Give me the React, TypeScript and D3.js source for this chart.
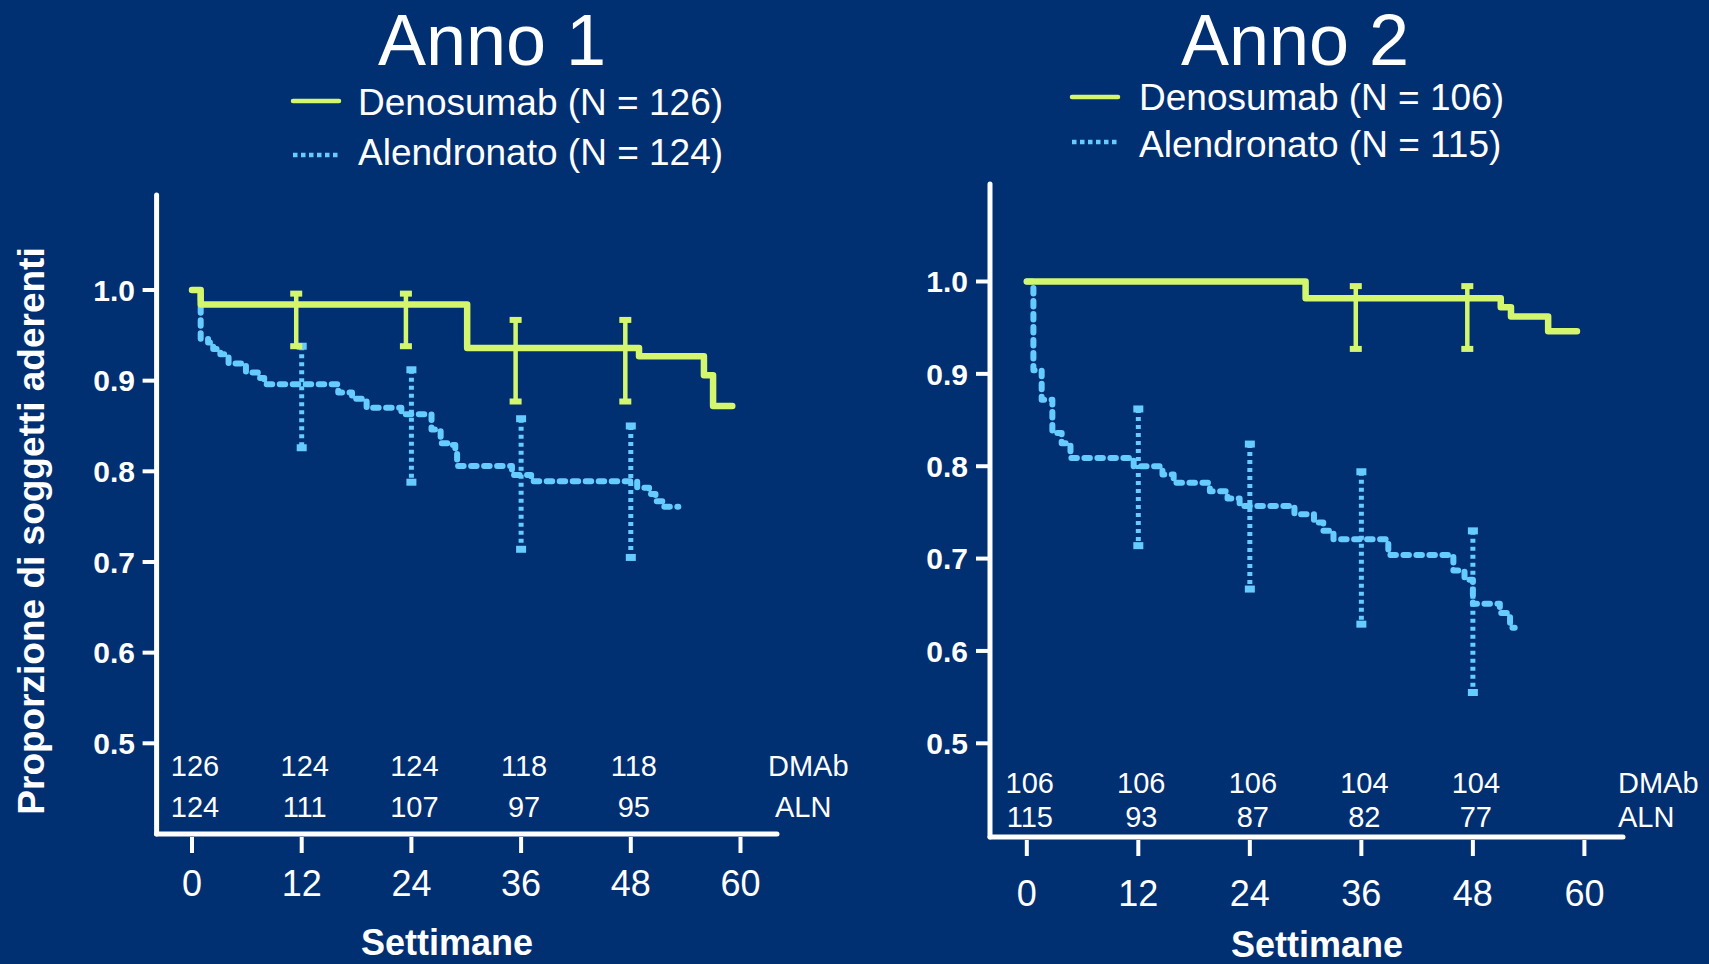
import React from "react";
import * as d3 from "d3";

const WIDTH = 1709;
const HEIGHT = 964;
const BG = "#002F72";
const GREEN = "#D4F66E";
const BLUE = "#66CCFF";
const WHITE = "#FFFFFF";
const FONT = "'Liberation Sans', Arial, Helvetica, sans-serif";

// Axis ticks
const weekTicks = [0, 12, 24, 36, 48, 60];
const proportionTicks = [0.5, 0.6, 0.7, 0.8, 0.9, 1.0];
const ciWeeks = [12, 24, 36, 48];
const riskWeeks = [0, 12, 24, 36, 48];

type Step = [number, number]; // [week, proportion adherent from that week on]
type Interval = [number, number]; // [lower, upper]

// ---- Anno 1 ----
const dmabYear1: Step[] = [
  [0, 1.0], [0.95, 0.984], [30.1, 0.936], [48.9, 0.927], [56.0, 0.906], [57.0, 0.872], [59.1, 0.872],
];
const alnYear1: Step[] = [
  [0, 1.0], [0.95, 0.946], [1.76, 0.942], [2.32, 0.935], [3.1, 0.929], [4.0, 0.919], [5.9, 0.909],
  [7.2, 0.903], [7.9, 0.896], [16.0, 0.887], [17.5, 0.88], [19.1, 0.87], [22.9, 0.863], [26.2, 0.846],
  [27.2, 0.831], [28.2, 0.829], [28.8, 0.822], [29.0, 0.806], [35.0, 0.796], [37.1, 0.789], [48.7, 0.782],
  [50.0, 0.775], [50.7, 0.767], [51.5, 0.761], [53.2, 0.761],
];
const dmabCiYear1: Interval[] = [[0.938, 0.996], [0.938, 0.996], [0.877, 0.967], [0.877, 0.967]];
const alnCiYear1: Interval[] = [[0.826, 0.938], [0.788, 0.912], [0.714, 0.858], [0.705, 0.85]];
const dmabRiskYear1 = [126, 124, 124, 118, 118];
const alnRiskYear1 = [124, 111, 107, 97, 95];

// ---- Anno 2 ----
const dmabYear2: Step[] = [
  [0, 1.0], [30.0, 0.982], [51.0, 0.972], [52.1, 0.962], [56.1, 0.946], [59.2, 0.946],
];
const alnYear2: Step[] = [
  [0, 1.0], [0.71, 0.904], [1.6, 0.872], [2.75, 0.836], [3.75, 0.825], [4.7, 0.809], [11.5, 0.8],
  [14.6, 0.791], [15.8, 0.782], [19.7, 0.773], [21.6, 0.765], [22.9, 0.757], [28.8, 0.748], [30.9, 0.739],
  [31.9, 0.73], [33.0, 0.721], [38.9, 0.704], [45.9, 0.687], [47.1, 0.677], [48.0, 0.651], [50.9, 0.641],
  [52.0, 0.625], [52.5, 0.625],
];
const dmabCiYear2: Interval[] = [[0.927, 0.995], [0.927, 0.995], [0.927, 0.995], [0.927, 0.995]];
const alnCiYear2: Interval[] = [[0.714, 0.862], [0.667, 0.824], [0.629, 0.794], [0.555, 0.73]];
const dmabRiskYear2 = [106, 106, 106, 104, 104];
const alnRiskYear2 = [115, 93, 87, 82, 77];

// Denosumab intervals at weeks 12/24 are not drawn in year 2
const dmabCiShownYear2 = [false, false, true, true];

const DMAB_CI_SHIFT = -0.6;

interface Layout {
  axisX: number;
  axisTop: number;
  baseY: number;
  axisRight: number;
  xRange: [number, number];
  yRange: [number, number];
  titleX: number;
  legendLineX: number;
  legendTextX: number;
  legendLineY: [number, number];
  legendBaseline: [number, number];
  riskBaseline: [number, number];
  riskLabelX: [number, number];
  tickLabelBaseline: number;
  xTitleX: number;
  xTitleBaseline: number;
  yLabelX: number;
}

interface PanelProps {
  title: string;
  dmabN: number;
  alnN: number;
  dmab: Step[];
  aln: Step[];
  dmabCi: Interval[];
  dmabCiShown: boolean[];
  alnCi: Interval[];
  dmabRisk: number[];
  alnRisk: number[];
  layout: Layout;
}

function Panel(p: PanelProps) {
  const L = p.layout;
  const x = d3.scaleLinear().domain([0, 60]).range(L.xRange);
  const y = d3.scaleLinear().domain([0.5, 1.0]).range(L.yRange);
  const line = d3
    .line<Step>()
    .x((d) => x(d[0]))
    .y((d) => y(d[1]))
    .curve(d3.curveStepAfter);

  return (
    <g>
      {/* title */}
      <text x={L.titleX} y={65} textAnchor="middle" fontSize={72} fill={WHITE} fontFamily={FONT}>
        {p.title}
      </text>
      {/* legend */}
      <line x1={L.legendLineX} x2={L.legendLineX + 46} y1={L.legendLineY[0]} y2={L.legendLineY[0]}
        stroke={GREEN} strokeWidth={4.5} strokeLinecap="round" />
      <text x={L.legendTextX} y={L.legendBaseline[0]} fontSize={37} fill={WHITE} fontFamily={FONT}>
        {`Denosumab (N = ${p.dmabN})`}
      </text>
      <line x1={L.legendLineX} x2={L.legendLineX + 46} y1={L.legendLineY[1]} y2={L.legendLineY[1]}
        stroke={BLUE} strokeWidth={4.5} strokeDasharray="4.5 3.5" />
      <text x={L.legendTextX} y={L.legendBaseline[1]} fontSize={37} fill={WHITE} fontFamily={FONT}>
        {`Alendronato (N = ${p.alnN})`}
      </text>

      {/* axes */}
      <line x1={L.axisX} x2={L.axisX} y1={L.axisTop} y2={L.baseY} stroke={WHITE} strokeWidth={5} strokeLinecap="round" />
      <line x1={L.axisX} x2={L.axisRight} y1={L.baseY} y2={L.baseY} stroke={WHITE} strokeWidth={5} strokeLinecap="round" />
      {proportionTicks.map((t) => (
        <g key={t}>
          <line x1={L.axisX - 14} x2={L.axisX} y1={y(t)} y2={y(t)} stroke={WHITE} strokeWidth={4} />
          <text x={L.yLabelX} y={y(t)} dy="0.36em" textAnchor="end" fontSize={30} fontWeight="bold"
            fill={WHITE} fontFamily={FONT}>
            {d3.format(".1f")(t)}
          </text>
        </g>
      ))}
      {weekTicks.map((t) => (
        <g key={t}>
          <line x1={x(t)} x2={x(t)} y1={L.baseY + 3} y2={L.baseY + 19} stroke={WHITE} strokeWidth={4} />
          <text x={x(t)} y={L.tickLabelBaseline} textAnchor="middle" fontSize={36} fill={WHITE} fontFamily={FONT}>
            {t}
          </text>
        </g>
      ))}
      <text x={L.xTitleX} y={L.xTitleBaseline} textAnchor="middle" fontSize={36} fontWeight="bold"
        fill={WHITE} fontFamily={FONT}>
        Settimane
      </text>

      {/* numbers at risk */}
      {riskWeeks.map((w, i) => (
        <g key={w}>
          <text x={x(w) + 3} y={L.riskBaseline[0]} textAnchor="middle" fontSize={29} fill={WHITE} fontFamily={FONT}>
            {p.dmabRisk[i]}
          </text>
          <text x={x(w) + 3} y={L.riskBaseline[1]} textAnchor="middle" fontSize={29} fill={WHITE} fontFamily={FONT}>
            {p.alnRisk[i]}
          </text>
        </g>
      ))}
      <text x={L.riskLabelX[0]} y={L.riskBaseline[0]} fontSize={29} fill={WHITE} fontFamily={FONT}>DMAb</text>
      <text x={L.riskLabelX[1]} y={L.riskBaseline[1]} fontSize={29} fill={WHITE} fontFamily={FONT}>ALN</text>

      {/* alendronate curve + intervals */}
      <path d={line(p.aln) ?? ""} fill="none" stroke={BLUE} strokeWidth={6} strokeDasharray="5.5 7.5"
        strokeLinecap="round" strokeLinejoin="round" />
      {ciWeeks.map((w, i) => {
        const [lo, hi] = p.alnCi[i];
        return (
          <g key={w}>
            <line x1={x(w)} x2={x(w)} y1={y(hi)} y2={y(lo)} stroke={BLUE} strokeWidth={5} strokeDasharray="4 4" />
            <rect x={x(w) - 5} y={y(hi) - 3.5} width={10} height={7} fill={BLUE} />
            <rect x={x(w) - 5} y={y(lo) - 3.5} width={10} height={7} fill={BLUE} />
          </g>
        );
      })}

      {/* denosumab curve + intervals */}
      <path d={line(p.dmab) ?? ""} fill="none" stroke={GREEN} strokeWidth={6.5}
        strokeLinecap="round" strokeLinejoin="round" />
      {ciWeeks.map((w, i) => {
        if (!p.dmabCiShown[i]) return null;
        const [lo, hi] = p.dmabCi[i];
        const cx = x(w + DMAB_CI_SHIFT);
        return (
          <g key={w}>
            <line x1={cx} x2={cx} y1={y(hi)} y2={y(lo)} stroke={GREEN} strokeWidth={4.5} />
            <rect x={cx - 6} y={y(hi) - 3} width={12} height={6} fill={GREEN} />
            <rect x={cx - 6} y={y(lo) - 3} width={12} height={6} fill={GREEN} />
          </g>
        );
      })}
    </g>
  );
}

const layout1: Layout = {
  axisX: 156.6,
  axisTop: 195,
  baseY: 834,
  axisRight: 777,
  xRange: [192, 740.5],
  yRange: [743.3, 290],
  titleX: 492,
  legendLineX: 293,
  legendTextX: 358,
  legendLineY: [101, 155],
  legendBaseline: [115, 165],
  riskBaseline: [776, 816.5],
  riskLabelX: [768, 775],
  tickLabelBaseline: 896,
  xTitleX: 447,
  xTitleBaseline: 955,
  yLabelX: 135,
};

const layout2: Layout = {
  axisX: 990,
  axisTop: 184,
  baseY: 837,
  axisRight: 1623,
  xRange: [1026.8, 1584.4],
  yRange: [743.3, 281.5],
  titleX: 1295,
  legendLineX: 1072,
  legendTextX: 1139,
  legendLineY: [97, 142],
  legendBaseline: [110, 157],
  riskBaseline: [793, 826.5],
  riskLabelX: [1618, 1618],
  tickLabelBaseline: 906,
  xTitleX: 1317,
  xTitleBaseline: 957,
  yLabelX: 968,
};

export default function App() {
  return (
    <div style={{ position: "fixed", left: 0, top: 0, width: WIDTH, height: HEIGHT, background: BG }}>
      <svg width={WIDTH} height={HEIGHT} viewBox={`0 0 ${WIDTH} ${HEIGHT}`} style={{ display: "block" }}>
        <rect width={WIDTH} height={HEIGHT} fill={BG} />
        <text transform="translate(44,531) rotate(-90)" textAnchor="middle" fontSize={37} fontWeight="bold"
          fill={WHITE} fontFamily={FONT}>
          Proporzione di soggetti aderenti
        </text>
        <Panel title="Anno 1" dmabN={126} alnN={124} dmab={dmabYear1} aln={alnYear1}
          dmabCi={dmabCiYear1} dmabCiShown={[true, true, true, true]} alnCi={alnCiYear1}
          dmabRisk={dmabRiskYear1} alnRisk={alnRiskYear1} layout={layout1} />
        <Panel title="Anno 2" dmabN={106} alnN={115} dmab={dmabYear2} aln={alnYear2}
          dmabCi={dmabCiYear2} dmabCiShown={dmabCiShownYear2} alnCi={alnCiYear2}
          dmabRisk={dmabRiskYear2} alnRisk={alnRiskYear2} layout={layout2} />
      </svg>
    </div>
  );
}
